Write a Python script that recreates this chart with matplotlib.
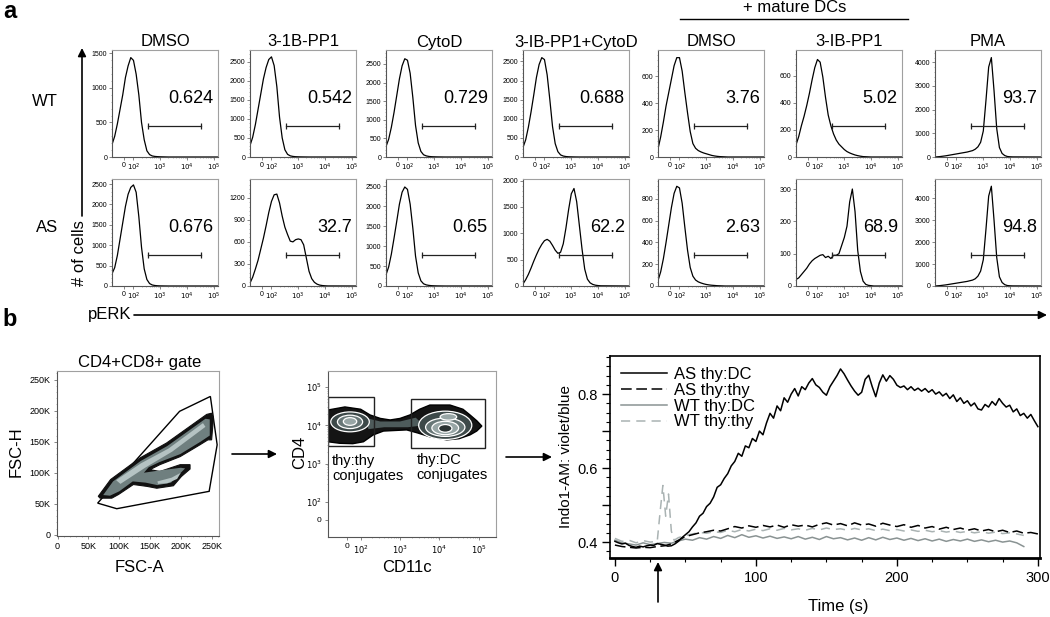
import numpy as np
import matplotlib
matplotlib.use('Agg')
import matplotlib.pyplot as plt
from matplotlib.patches import Polygon, Ellipse, Rectangle
from matplotlib.ticker import AutoMinorLocator, MultipleLocator, FixedLocator

plt.rcParams['font.family'] = ['Liberation Sans', 'DejaVu Sans']
NARROW = ['Liberation Sans Narrow', 'Liberation Sans', 'DejaVu Sans']

# ---------------- panel a data: pERK histograms (x in display decades) ----------------
U_GRID = [1.2, 1.3, 1.4, 1.5, 1.6, 1.7, 1.8, 1.9, 2.0, 2.1, 2.2, 2.3, 2.4, 2.5, 2.6,
          2.7, 2.8, 2.9, 3.0, 3.1, 3.2, 3.3, 3.4, 3.5, 3.6, 3.7, 3.8, 3.9, 4.0, 4.1, 5.15]

conditions = ['DMSO', '3-1B-PP1', 'CytoD', '3-IB-PP1+CytoD', 'DMSO', '3-IB-PP1', 'PMA']
genotypes = ['WT', 'AS']

WT_DMSO = [180, 300, 480, 690, 900, 1150, 1320, 1440, 1400, 1200, 900, 500, 250, 90, 35, 15, 8, 5, 3, 2, 1, 0, 0, 0, 0, 0, 0, 0, 0, 0, 0]
WT_1B = [300, 520, 850, 1250, 1650, 2050, 2350, 2560, 2630, 2400, 1850, 1050, 500, 190, 70, 30, 15, 8, 5, 3, 2, 1, 0, 0, 0, 0, 0, 0, 0, 0, 0]
WT_CYTOD = [280, 480, 800, 1200, 1650, 2100, 2450, 2640, 2600, 2250, 1600, 850, 380, 150, 60, 30, 15, 8, 5, 3, 2, 1, 0, 0, 0, 0, 0, 0, 0, 0, 0]
WT_IB_CYTOD = [250, 450, 780, 1180, 1620, 2080, 2420, 2600, 2550, 2150, 1500, 800, 350, 140, 55, 25, 12, 6, 4, 2, 1, 0, 0, 0, 0, 0, 0, 0, 0, 0, 0]
WT_DC_DMSO = [60, 150, 260, 380, 480, 580, 680, 740, 740, 640, 480, 330, 190, 100, 65, 48, 38, 30, 24, 18, 12, 8, 5, 3, 2, 1, 0, 0, 0, 0, 0]
WT_DC_IB = [90, 150, 230, 300, 380, 470, 570, 660, 720, 700, 590, 440, 310, 230, 170, 125, 95, 75, 55, 40, 30, 22, 15, 10, 6, 3, 2, 1, 0, 0, 0]
WT_PMA = [0, 10, 20, 35, 50, 70, 90, 110, 130, 150, 170, 190, 210, 240, 270, 330, 430, 620, 1100, 2400, 3800, 4200, 2800, 1200, 400, 150, 60, 20, 10, 5, 0]

AS_DMSO = [300, 450, 750, 1150, 1550, 1950, 2250, 2420, 2480, 2300, 1700, 950, 420, 160, 60, 25, 12, 6, 3, 2, 1, 0, 0, 0, 0, 0, 0, 0, 0, 0, 0]
AS_1B = [40, 120, 230, 350, 500, 650, 820, 1000, 1150, 1240, 1250, 1130, 950, 800, 700, 610, 600, 630, 640, 630, 560, 380, 200, 100, 50, 25, 12, 6, 3, 1, 0]
AS_CYTOD = [280, 480, 800, 1200, 1620, 2050, 2350, 2480, 2420, 2050, 1450, 750, 330, 130, 55, 28, 15, 8, 5, 3, 2, 1, 0, 0, 0, 0, 0, 0, 0, 0, 0]
AS_IB_CYTOD = [40, 120, 220, 340, 470, 590, 700, 790, 860, 885, 850, 770, 680, 620, 640, 800, 1100, 1450, 1750, 1850, 1600, 1150, 700, 320, 130, 60, 30, 15, 8, 4, 0]
AS_DC_DMSO = [50, 130, 250, 400, 560, 720, 850, 915, 900, 760, 540, 330, 170, 90, 55, 38, 28, 20, 14, 10, 7, 5, 3, 2, 1, 0, 0, 0, 0, 0, 0]
AS_DC_IB = [20, 25, 35, 45, 55, 68, 78, 85, 90, 95, 97, 88, 92, 85, 95, 95, 100, 125, 150, 185, 260, 300, 230, 110, 45, 15, 5, 2, 1, 0, 0]
AS_PMA = [0, 10, 20, 35, 50, 70, 90, 110, 130, 150, 170, 190, 210, 240, 270, 330, 450, 680, 1200, 2600, 4100, 4550, 3000, 1300, 420, 160, 60, 20, 10, 5, 0]

HIST = [[WT_DMSO, WT_1B, WT_CYTOD, WT_IB_CYTOD, WT_DC_DMSO, WT_DC_IB, WT_PMA],
        [AS_DMSO, AS_1B, AS_CYTOD, AS_IB_CYTOD, AS_DC_DMSO, AS_DC_IB, AS_PMA]]

PCT_WT = ['0.624', '0.542', '0.729', '0.688', '3.76', '5.02', '93.7']
PCT_AS = ['0.676', '32.7', '0.65', '62.2', '2.63', '68.9', '94.8']

YMAX_WT = [1550, 2810, 2875, 2800, 797, 790, 4520]
YMAX_AS = [2625, 1455, 2680, 2030, 982, 331, 4880]
YT_WT = [[0, 500, 1000, 1500], [0, 500, 1000, 1500, 2000, 2500], [0, 500, 1000, 1500, 2000, 2500],
         [0, 500, 1000, 1500, 2000, 2500], [0, 200, 400, 600], [0, 200, 400, 600],
         [0, 1000, 2000, 3000, 4000]]
YT_AS = [[0, 500, 1000, 1500, 2000, 2500], [0, 300, 600, 900, 1200], [0, 500, 1000, 1500, 2000, 2500],
         [0, 500, 1000, 1500, 2000], [0, 200, 400, 600, 800], [0, 100, 200, 300],
         [0, 1000, 2000, 3000, 4000]]

GATE_LO, GATE_HI = 2.55, 4.5

DEC_TICKS = [1.65, 2, 3, 4, 5]
DEC_LABELS = ['0', '$10^{2}$', '$10^{3}$', '$10^{4}$', '$10^{5}$']

# ---------------- panel b data ----------------
FSC_GATE = [(65, 51), (96, 42), (246, 70), (259, 145), (248, 223), (198, 199)]
FSC_OUTER = [(66, 62), (86, 89), (134, 124), (177, 148), (242, 194), (250, 196), (253, 188),
             (250, 153), (244, 153), (231, 145), (199, 126), (166, 113), (150, 105), (166, 102),
             (199, 113), (215, 113), (215, 106), (201, 94), (188, 79), (161, 75), (145, 78),
             (123, 81), (99, 65), (88, 59), (69, 59)]
FSC_MID = [(74, 64), (90, 86), (135, 119), (178, 143), (240, 187), (247, 186), (247, 160),
           (232, 150), (199, 130), (165, 117), (148, 109), (140, 100), (168, 104), (200, 108),
           (207, 107), (197, 97), (184, 84), (162, 80), (143, 84), (122, 86), (100, 70), (85, 63)]
FSC_CORE = [(95, 88), (135, 115), (180, 139), (236, 180), (240, 174), (186, 134), (142, 108), (102, 82)]
FSC_LOBE_CORE = [(162, 86), (185, 92), (200, 100), (194, 90), (178, 83), (163, 82)]

CD_OUTER = [(1.17, 4.40), (1.6, 4.48), (2.0, 4.42), (2.24, 4.27), (2.5, 4.18), (2.75, 4.14),
            (3.0, 4.18), (3.25, 4.27), (3.5, 4.42), (3.76, 4.53), (4.27, 4.53), (4.6, 4.42),
            (4.78, 4.27), (4.95, 4.12), (5.08, 3.98), (4.95, 3.85), (4.78, 3.75), (4.5, 3.65),
            (4.19, 3.62), (3.76, 3.70), (3.45, 3.80), (3.17, 3.88), (2.58, 3.85), (2.32, 3.75),
            (2.07, 3.57), (1.8, 3.52), (1.47, 3.53), (1.17, 3.57)]
CD_BRIDGE = [(2.1, 4.2), (2.5, 4.1), (3.0, 4.1), (3.4, 4.2), (3.6, 4.0), (3.2, 3.95), (2.6, 3.95), (2.2, 3.9)]
# ring: centre x, centre y, width, height, level
CD_RINGS = [(1.73, 4.09, 0.98, 0.52, 0), (1.73, 4.09, 0.64, 0.35, 1), (1.73, 4.10, 0.34, 0.20, 2),
            (4.15, 4.00, 1.35, 0.74, 0), (4.15, 3.95, 1.00, 0.48, 1), (4.15, 3.93, 0.68, 0.35, 2),
            (4.15, 3.92, 0.34, 0.20, 3), (4.23, 4.22, 0.42, 0.17, 2)]
CD_GATE_THY = (1.16, 3.47, 2.34, 4.73)
CD_GATE_DC = (3.27, 3.41, 5.15, 4.70)
CD_Y_TICKS = [1.53, 2, 3, 4, 5]

# calcium flux, time in s
T_FINE = np.linspace(0, 300, 121)
AS_THYDC = [0.402, 0.398, 0.395, 0.397, 0.391, 0.388, 0.386, 0.389, 0.387, 0.390,
            0.392, 0.391, 0.396, 0.394, 0.392, 0.389, 0.390, 0.395, 0.402, 0.412,
            0.420, 0.428, 0.441, 0.452, 0.470, 0.478, 0.496, 0.505, 0.522, 0.548,
            0.555, 0.572, 0.585, 0.606, 0.618, 0.640, 0.632, 0.660, 0.655, 0.680,
            0.672, 0.700, 0.690, 0.722, 0.748, 0.735, 0.768, 0.755, 0.790, 0.778,
            0.800, 0.815, 0.795, 0.820, 0.812, 0.830, 0.842, 0.825, 0.818, 0.805,
            0.797, 0.820, 0.835, 0.850, 0.868, 0.855, 0.838, 0.822, 0.808, 0.797,
            0.805, 0.840, 0.851, 0.820, 0.793, 0.830, 0.852, 0.835, 0.850, 0.840,
            0.824, 0.818, 0.822, 0.812, 0.820, 0.810, 0.816, 0.808, 0.815, 0.805,
            0.812, 0.800, 0.806, 0.795, 0.802, 0.788, 0.798, 0.780, 0.790, 0.775,
            0.782, 0.768, 0.776, 0.760, 0.757, 0.772, 0.765, 0.780, 0.770, 0.788,
            0.775, 0.765, 0.770, 0.752, 0.760, 0.742, 0.748, 0.735, 0.745, 0.728,
            0.712]
T_AS_THY = list(range(0, 301, 5))
AS_THYTHY = [0.392, 0.388, 0.386, 0.384, 0.386, 0.385, 0.388, 0.390, 0.395, 0.405,
             0.415, 0.420, 0.425, 0.428, 0.432, 0.430, 0.436, 0.442, 0.438, 0.444,
             0.440, 0.445, 0.441, 0.446, 0.440, 0.447, 0.443, 0.446, 0.441, 0.448,
             0.452, 0.446, 0.450, 0.444, 0.452, 0.446, 0.449, 0.443, 0.451, 0.446,
             0.442, 0.447, 0.440, 0.445, 0.438, 0.442, 0.435, 0.440, 0.434, 0.438,
             0.432, 0.436, 0.430, 0.434, 0.428, 0.432, 0.426, 0.430, 0.424, 0.426,
             0.422]
T_WT_DC = list(range(0, 291, 5))
WT_THYDC = [0.405, 0.398, 0.395, 0.392, 0.398, 0.393, 0.396, 0.399, 0.397, 0.403,
            0.408, 0.405, 0.412, 0.408, 0.415, 0.410, 0.418, 0.412, 0.420, 0.413,
            0.417, 0.411, 0.416, 0.410, 0.414, 0.409, 0.415, 0.408, 0.413, 0.407,
            0.415, 0.409, 0.412, 0.406, 0.411, 0.405, 0.412, 0.406, 0.413, 0.407,
            0.411, 0.405, 0.410, 0.404, 0.409, 0.403, 0.408, 0.402, 0.407, 0.403,
            0.408, 0.402, 0.406, 0.401, 0.405, 0.400, 0.403, 0.398, 0.388]
T_WT_THY = [0, 5, 10, 15, 20, 25, 30, 32, 34, 36, 37, 38, 40, 42] + list(range(45, 291, 5))
WT_THYTHY = [0.410, 0.402, 0.405, 0.398, 0.404, 0.400, 0.402, 0.480, 0.553, 0.470, 0.500, 0.530, 0.430, 0.405,
             0.412, 0.418, 0.422, 0.426, 0.424, 0.428, 0.426, 0.432, 0.428, 0.434,
             0.430, 0.435, 0.431, 0.436, 0.432, 0.437, 0.433, 0.436, 0.432, 0.437,
             0.433, 0.438, 0.434, 0.436, 0.432, 0.437, 0.433, 0.436, 0.431, 0.435,
             0.431, 0.434, 0.430, 0.433, 0.429, 0.432, 0.428, 0.431, 0.427, 0.430,
             0.426, 0.429, 0.425, 0.428, 0.424, 0.427, 0.423, 0.425, 0.422, 0.418]

W, H = 1050, 617
fig = plt.figure(figsize=(10.5, 6.17), dpi=100)


def rect(left, top, right, bottom):
    # pixel box -> figure fraction
    return [left / W, 1 - bottom / H, (right - left) / W, (bottom - top) / H]


def flow_frame(ax):
    for side in ['top', 'right']:
        ax.spines[side].set_color('#a0a0a0')
    for side in ['left', 'bottom']:
        ax.spines[side].set_color('#555555')
    for s in ax.spines.values():
        s.set_linewidth(0.8)


minor_dec = [np.log10(m) + d for d in [2, 3, 4] for m in range(2, 10)]

# ---------------- panel a ----------------
col_left = [112, 250, 386, 523, 658, 796, 935]
row_top = [50, 179]
pcts = [PCT_WT, PCT_AS]
ymaxes = [YMAX_WT, YMAX_AS]
yticks = [YT_WT, YT_AS]

for r in range(2):
    for c in range(7):
        ax = fig.add_axes(rect(col_left[c], row_top[r], col_left[c] + 106, row_top[r] + 107))
        ax.plot(U_GRID, HIST[r][c], color='k', lw=0.9)
        ax.plot([GATE_LO, GATE_HI], [0.29, 0.29], transform=ax.get_xaxis_transform(),
                color='#222222', lw=0.9, marker='|', markersize=5, mew=0.9)
        ax.text(0.96, 0.55, pcts[r][c], transform=ax.transAxes, ha='right', va='center',
                fontsize=13)
        ax.set_xlim(1.2, 5.15)
        ax.set_ylim(0, ymaxes[r][c])
        ax.set_xticks(DEC_TICKS)
        ax.set_xticklabels(DEC_LABELS)
        ax.xaxis.set_minor_locator(FixedLocator(minor_dec))
        ax.set_yticks(yticks[r][c])
        ax.yaxis.set_minor_locator(AutoMinorLocator(5))
        ax.tick_params(which='major', length=2, width=0.5, pad=1.5, labelsize=5, color='#555555')
        ax.tick_params(which='minor', length=1, width=0.4, color='#777777')
        flow_frame(ax)

# ---------------- panel b: FSC plot ----------------
ax1 = fig.add_axes(rect(57, 371, 219, 536))
ax1.add_patch(Polygon(FSC_GATE, closed=True, fill=False, edgecolor='k', lw=1.0))
ax1.add_patch(Polygon(FSC_OUTER, closed=True, facecolor='#111111', edgecolor='#111111', lw=0.8))
ax1.add_patch(Polygon(FSC_MID, closed=True, facecolor='#6f7f7f', edgecolor='none'))
ax1.add_patch(Polygon(FSC_CORE, closed=True, facecolor='#b5c3c3', edgecolor='none'))
ax1.add_patch(Polygon(FSC_LOBE_CORE, closed=True, facecolor='#b5c3c3', edgecolor='none'))
ax1.set_xlim(-1, 262)
ax1.set_ylim(-2, 264)
ax1.set_xticks([0, 50, 100, 150, 200, 250])
ax1.set_xticklabels(['0', '50K', '100K', '150K', '200K', '250K'])
ax1.set_yticks([0, 50, 100, 150, 200, 250])
ax1.set_yticklabels(['0', '50K', '100K', '150K', '200K', '250K'])
ax1.xaxis.set_minor_locator(MultipleLocator(10))
ax1.yaxis.set_minor_locator(MultipleLocator(10))
ax1.tick_params(which='major', length=2.5, width=0.5, pad=2, labelsize=6.5, color='#555555')
ax1.tick_params(which='minor', length=1, width=0.4, color='#777777')
flow_frame(ax1)

# ---------------- panel b: CD4 vs CD11c ----------------
ax2 = fig.add_axes(rect(328, 371, 496, 537))
ring_shades = ['#3d4949', '#687777', '#98a6a6', '#2a3333']
ax2.add_patch(Polygon(CD_OUTER, closed=True, facecolor='#141414', edgecolor='k', lw=1.0))
ax2.add_patch(Polygon(CD_BRIDGE, closed=True, facecolor='#4e5b5b', edgecolor='none'))
for cx, cy, w, h, lev in CD_RINGS:
    ax2.add_patch(Ellipse((cx, cy), w, h, facecolor=ring_shades[lev], edgecolor='white', lw=0.9))
for x0, y0, x1, y1 in [CD_GATE_THY, CD_GATE_DC]:
    ax2.add_patch(Rectangle((x0, y0), x1 - x0, y1 - y0, fill=False, edgecolor='#222222', lw=1.0))
ax2.text(1.27, 3.24, 'thy:thy\nconjugates', fontsize=10.5, va='top', ha='left', linespacing=1.1)
ax2.text(3.42, 3.28, 'thy:DC\nconjugates', fontsize=10.5, va='top', ha='left', linespacing=1.1)
ax2.set_xlim(1.17, 5.44)
ax2.set_ylim(1.08, 5.42)
ax2.set_xticks(DEC_TICKS)
ax2.set_xticklabels(DEC_LABELS)
ax2.set_yticks(CD_Y_TICKS)
ax2.set_yticklabels(DEC_LABELS)
ax2.xaxis.set_minor_locator(FixedLocator(minor_dec))
ax2.yaxis.set_minor_locator(FixedLocator(minor_dec))
ax2.tick_params(which='major', length=2.5, width=0.5, pad=2, labelsize=6, color='#555555')
ax2.tick_params(which='minor', length=1, width=0.4, color='#777777')
flow_frame(ax2)

# ---------------- panel b: calcium flux ----------------
ax3 = fig.add_axes(rect(610, 356, 1040, 558))
ax3.plot(T_WT_DC, WT_THYDC, color='#8a9393', lw=1.1, label='WT thy:DC', zorder=2)
ax3.plot(T_WT_THY, WT_THYTHY, color='#aab3b3', lw=1.1, dashes=(6, 4), label='WT thy:thy', zorder=2)
ax3.plot(T_AS_THY, AS_THYTHY, color='k', lw=1.1, dashes=(7, 3), label='AS thy:thy', zorder=3)
ax3.plot(T_FINE, AS_THYDC, color='k', lw=1.1, label='AS thy:DC', zorder=4)
handles, labels = ax3.get_legend_handles_labels()
order = [3, 2, 0, 1]
leg = ax3.legend([handles[i] for i in order], [labels[i] for i in order], loc='upper left',
                 frameon=False, fontsize=12, handlelength=2.8, handletextpad=0.4,
                 labelspacing=0.05, borderaxespad=0.25)
ax3.set_xlim(-3.5, 301.5)
ax3.set_ylim(0.357, 0.903)
ax3.set_xticks([0, 100, 200, 300])
ax3.xaxis.set_minor_locator(MultipleLocator(25))
ax3.set_yticks([0.4, 0.5, 0.6, 0.7, 0.8])
ax3.set_yticklabels(['0.4', '', '0.6', '', '0.8'])
ax3.yaxis.set_minor_locator(MultipleLocator(0.025))
ax3.tick_params(which='major', length=6, width=1.0, labelsize=10.5, pad=3)
ax3.tick_params(which='minor', length=3, width=0.8)
for lab in ax3.get_xticklabels() + ax3.get_yticklabels():
    lab.set_family(NARROW)
for s in ax3.spines.values():
    s.set_linewidth(1.2)
ax3.spines['bottom'].set_linewidth(2.0)

# ---------------- figure-level text and arrows ----------------
ov = fig.add_axes([0, 0, 1, 1])
ov.set_xlim(0, W)
ov.set_ylim(H, 0)
ov.axis('off')

arrow = dict(arrowstyle='-|>', color='k', lw=1.2, mutation_scale=12, shrinkA=0, shrinkB=0)
ov.text(10, 12, 'a', fontsize=17, fontweight='bold', ha='center', va='center')
ov.text(10, 320, 'b', fontsize=17, fontweight='bold', ha='center', va='center')
ov.text(795, 8, '+ mature DCs', fontsize=12, ha='center', va='center')
ov.plot([680, 908], [19, 19], color='k', lw=1.0)
for c in range(7):
    ov.text(col_left[c] + 53, 42, conditions[c], fontsize=12, ha='center', va='center')
ov.text(45, 102, genotypes[0], fontsize=12, ha='center', va='center')
ov.text(47, 228, genotypes[1], fontsize=12, ha='center', va='center')
ov.text(80, 253, '# of cells', fontsize=12, rotation=90, ha='center', va='center')
ov.annotate('', xy=(82, 48), xytext=(82, 216), arrowprops=arrow)
ov.text(110, 315, 'pERK', fontsize=12, ha='center', va='center')
ov.annotate('', xy=(1047, 315), xytext=(134, 315), arrowprops=arrow)

ov.text(140, 362, 'CD4+CD8+ gate', fontsize=12, ha='center', va='center')
ov.text(16, 452, 'FSC-H', fontsize=12, rotation=90, ha='center', va='center')
ov.text(140, 568, 'FSC-A', fontsize=12, ha='center', va='center')
ov.annotate('', xy=(277, 454), xytext=(232, 454), arrowprops=arrow)
ov.text(300, 452, 'CD4', fontsize=12, rotation=90, ha='center', va='center')
ov.text(407, 568, 'CD11c', fontsize=12, ha='center', va='center')
ov.annotate('', xy=(552, 457), xytext=(506, 457), arrowprops=arrow)
ov.text(566, 457, 'Indo1-AM: violet/blue', fontsize=11, rotation=90, ha='center', va='center')
ov.text(838, 606, 'Time (s)', fontsize=12, ha='center', va='center', family=NARROW)
ov.annotate('', xy=(658, 562), xytext=(658, 602), arrowprops=arrow)

fig.savefig('out.png', dpi=100)
